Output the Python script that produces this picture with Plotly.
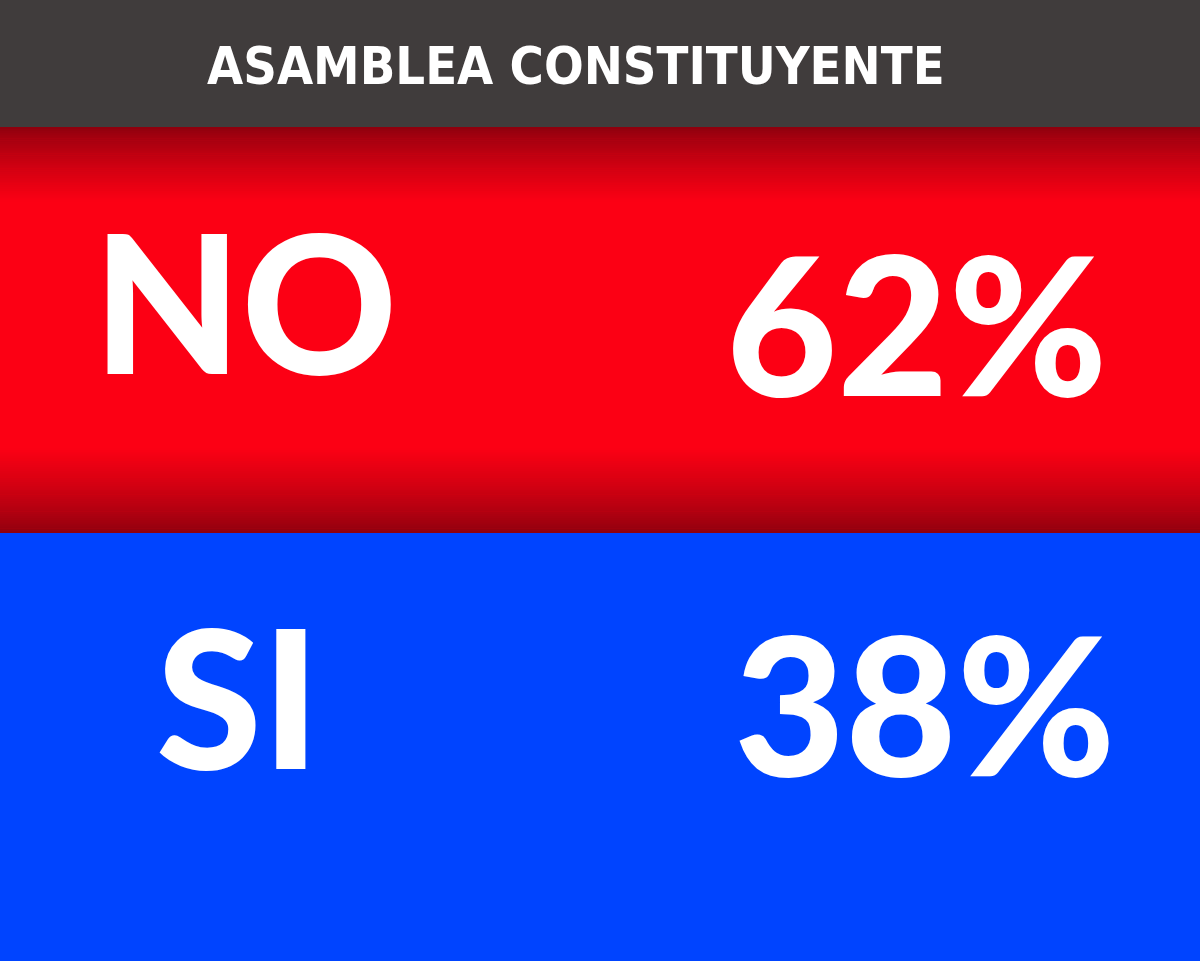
import plotly.graph_objects as go

title_text = "ASAMBLEA CONSTITUYENTE"
categories = ["NO", "SI"]
values = [62, 38]

W, H = 1200, 961
HEADER_H = 127
SPLIT = 533

fig = go.Figure()
fig.update_layout(width=W, height=H, margin=dict(l=0, r=0, t=0, b=0), autosize=False,
                  paper_bgcolor="#0044ff", plot_bgcolor="rgba(0,0,0,0)",
                  xaxis=dict(visible=False, range=[0, W], fixedrange=True),
                  yaxis=dict(visible=False, range=[H, 0], fixedrange=True),
                  showlegend=False)

shapes = []
shapes.append(dict(type="rect", xref="x", yref="y", x0=0, x1=W, y0=0, y1=HEADER_H,
                   fillcolor="#403c3c", line_width=0, layer="below"))
base = (252, 0, 20)
dark = (140, 0, 14)
shapes.append(dict(type="rect", xref="x", yref="y", x0=0, x1=W, y0=HEADER_H, y1=SPLIT,
                   fillcolor="rgb(%d,%d,%d)" % base, line_width=0, layer="below"))
def mix(t):
    return "rgb(%d,%d,%d)" % tuple(round(dark[i] + (base[i] - dark[i]) * t) for i in range(3))
n = 40
top_len = 75
bot_len = 85
for i in range(n):
    t0 = i / n
    shapes.append(dict(type="rect", xref="x", yref="y", x0=0, x1=W,
                       y0=HEADER_H + top_len * t0, y1=HEADER_H + top_len * (i + 1) / n + 0.6,
                       fillcolor=mix((t0 + 0.5 / n) ** 0.8), line_width=0, layer="below"))
    shapes.append(dict(type="rect", xref="x", yref="y", x0=0, x1=W,
                       y0=SPLIT - bot_len * (i + 1) / n - 0.6, y1=SPLIT - bot_len * t0,
                       fillcolor=mix((t0 + 0.5 / n) ** 0.8), line_width=0, layer="below"))
shapes.append(dict(type="rect", xref="x", yref="y", x0=0, x1=W, y0=SPLIT, y1=H,
                   fillcolor="#0044ff", line_width=0, layer="below"))
fig.update_layout(shapes=shapes)

big_font = dict(family="Lato, Inter, DejaVu Sans", size=192, color="white", weight=900)
ann = []
ann.append(dict(x=576, y=66, xref="x", yref="y", text=title_text, showarrow=False,
                xanchor="center", yanchor="middle",
                font=dict(family="DejaVu Sans Condensed, Liberation Sans Narrow", size=52,
                          color="white", weight="bold")))
label_pos = [(245, 304), (238, 699)]
value_pos = [(917, 326), (925, 706)]
for c, v, (lx, ly), (vx, vy) in zip(categories, values, label_pos, value_pos):
    ann.append(dict(x=lx, y=ly - 5, xref="x", yref="y", text=c, showarrow=False,
                    xanchor="center", yanchor="middle", font=big_font))
    ann.append(dict(x=vx, y=vy - 5, xref="x", yref="y", text=f"{v}%", showarrow=False,
                    xanchor="center", yanchor="middle", font=big_font))
fig.update_layout(annotations=ann)

fig.write_html("out.html", config={"displayModeBar": False, "responsive": False},
               default_width="1200px", default_height="961px",
               post_script="document.body.style.margin='0';document.body.style.overflow='hidden';")
